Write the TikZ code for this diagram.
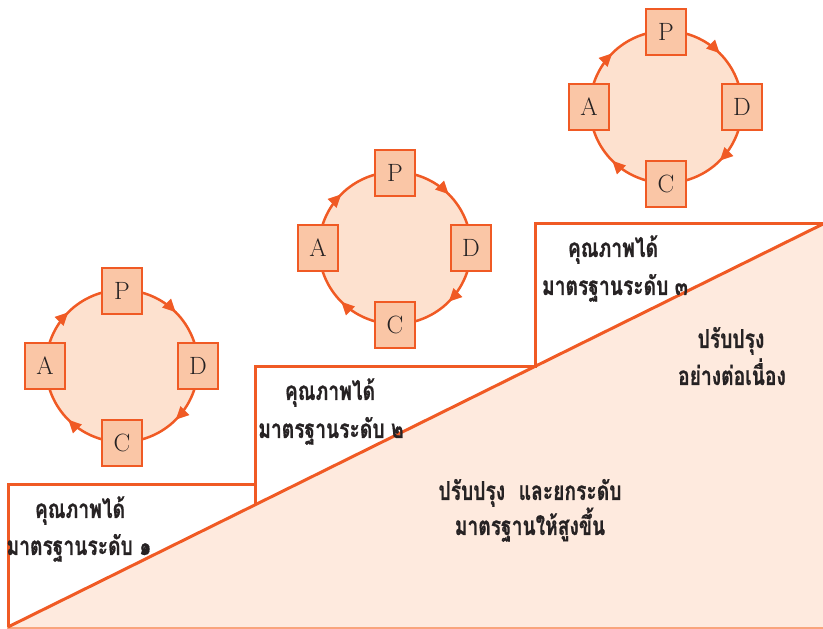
\documentclass[tikz,border=0pt]{standalone}
\usepackage{fontspec}
\newfontfamily\thaifont[Script=Thai, FakeStretch=0.74, FakeBold=0.6]{Loma}
\usetikzlibrary{arrows.meta,decorations.markings}
\definecolor{org}{HTML}{F05A24}
\definecolor{boxfill}{HTML}{FAC6A6}
\definecolor{ringfill}{HTML}{FDE1CF}
\definecolor{slopefill}{HTML}{FEEADE}
\definecolor{baseorange}{HTML}{F9A47C}
\definecolor{textdark}{HTML}{262223}
\tikzset{
  pdcabox/.style={draw=org, line width=2.8pt, fill=boxfill, minimum width=40pt,
    minimum height=46pt, inner sep=0pt, text=textdark, font=\fontsize{25}{27}\selectfont},
  ringarrow/.style={decoration={markings,
    mark=at position 0.125 with {\arrow{Triangle[length=13pt,width=12pt]}},
    mark=at position 0.375 with {\arrow{Triangle[length=13pt,width=12pt]}},
    mark=at position 0.625 with {\arrow{Triangle[length=13pt,width=12pt]}},
    mark=at position 0.875 with {\arrow{Triangle[length=13pt,width=12pt]}}}},
  ring/.style={draw=org, line width=2.5pt, fill=ringfill, ringarrow, postaction={decorate}},
  stairline/.style={draw=org, line width=3pt},
  thaitext/.style={font=\thaifont\bfseries\fontsize{26}{28}\selectfont, text=textdark,
    anchor=base, inner sep=0pt}
}
\newcommand{\pdcacycle}[3]{%
  \coordinate (#1) at (#2,#3);
  \path[ring] ([shift={(0,76)}]#1) arc[start angle=90, end angle=-270, radius=76];
  \node[pdcabox] (#1P) at ([shift={(0,75)}]#1) {P};
  \node[pdcabox] (#1D) at ([shift={(76,0)}]#1) {D};
  \node[pdcabox] (#1C) at ([shift={(0,-77)}]#1) {C};
  \node[pdcabox] (#1A) at ([shift={(-77,0)}]#1) {A};
}
\begin{document}
\begin{tikzpicture}[x=1pt,y=1pt]
\useasboundingbox (0,0) rectangle (823,629);
% slope fill
\fill[slopefill] (8,2) -- (823,405) -- (823,0) -- (8,0) -- cycle;
\draw[draw=baseorange, line width=1.6pt] (7,0.8) -- (823,0.8);
% stairs
\coordinate (s0) at (8,2);
\coordinate (s1) at (8,144);
\coordinate (s2) at (255,144);
\coordinate (s3) at (255,124);
\coordinate (s4) at (255,262);
\coordinate (s5) at (535,262);
\coordinate (s6) at (535,405);
\coordinate (s7) at (823,405);
\draw[stairline] (s0) -- (s1) -- (s2);
\draw[stairline] (s3) -- (s4) -- (s5) -- (s6) -- (s7);
\draw[stairline] (s0) -- (s7);
% cycles
\pdcacycle{c1}{122}{263}
\pdcacycle{c2}{395}{381}
\pdcacycle{c3}{666}{522}
% texts
\node[thaitext] (t1a) at (80,111) {คุณภาพได้};
\node[thaitext] (t1b) at (79,74) {มาตรฐานระดับ ๑};
\node[thaitext] (t2a) at (330,229) {คุณภาพได้};
\node[thaitext] (t2b) at (331,191) {มาตรฐานระดับ ๒};
\node[thaitext] (t3a) at (613,372) {คุณภาพได้};
\node[thaitext] (t3b) at (615,334) {มาตรฐานระดับ ๓};
\node[thaitext] (t4a) at (731,281) {ปรับปรุง};
\node[thaitext] (t4b) at (732,244) {อย่างต่อเนื่อง};
\node[thaitext] (t5a) at (530,129) {ปรับปรุง\hspace{7pt} และยกระดับ};
\node[thaitext] (t5b) at (530,94) {มาตรฐานให้สูงขึ้น};
\end{tikzpicture}
\end{document}
